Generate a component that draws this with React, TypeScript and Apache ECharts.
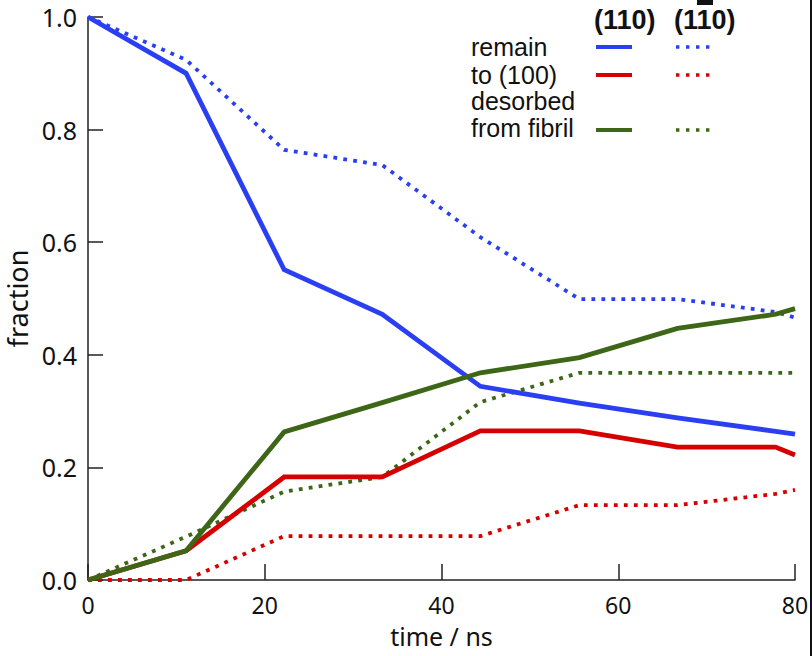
import React, { useEffect, useRef } from "react";
import * as echarts from "echarts";

const times = [0, 11.1, 22.2, 33.3, 44.4, 55.6, 66.7, 77.8, 80];
const remain110 = [1.0, 0.9, 0.551, 0.472, 0.344, 0.314, 0.288, 0.264, 0.259];
const remain1b10 = [1.0, 0.924, 0.764, 0.737, 0.609, 0.499, 0.499, 0.476, 0.466];
const to100_110 = [0.0, 0.052, 0.183, 0.183, 0.265, 0.265, 0.236, 0.236, 0.222];
const to100_1b10 = [0.0, 0.0, 0.078, 0.078, 0.078, 0.133, 0.133, 0.153, 0.16];
const desorbed110 = [0.0, 0.052, 0.263, 0.315, 0.368, 0.395, 0.447, 0.472, 0.482];
const desorbed1b10 = [0.0, 0.077, 0.157, 0.183, 0.316, 0.368, 0.368, 0.368, 0.368];
const xTicks = [0, 20, 40, 60, 80];
const yTicks = [0, 0.2, 0.4, 0.6, 0.8, 1.0];
const legendRows = ["remain", "to (100)", "desorbed", "from fibril"];

const BLUE = "#2b3ff2";
const RED = "#d50000";
const GREEN = "#3d6616";
const LEG_FONT = "'Liberation Sans', Arial, sans-serif";
const AX_FONT = "'Noto Sans', 'Open Sans', sans-serif";

const pairs = (vals: number[]) => times.map((t, i) => [t, vals[i]]);

export default function App() {
  const ref = useRef<HTMLDivElement>(null);
  useEffect(() => {
    if (!ref.current) return;
    const chart = echarts.init(ref.current, undefined, { renderer: "svg" });
    const solid = (name: string, vals: number[], color: string) => ({
      name,
      type: "line",
      data: pairs(vals),
      symbol: "none",
      lineStyle: { color, width: 4.8, type: "solid", cap: "butt", join: "miter" },
      z: 3,
    });
    const dotted = (name: string, vals: number[], color: string) => ({
      name,
      type: "line",
      data: pairs(vals),
      symbol: "none",
      lineStyle: { color, width: 3.8, type: [3.8, 6.2], cap: "butt" },
      z: 2,
    });
    const lgY = [47, 75, 101, 128];
    const lgColors = [BLUE, RED, null, GREEN];
    const graphics: any[] = [];
    legendRows.forEach((r, i) => {
      graphics.push({
        type: "text",
        x: 471,
        y: lgY[i],
        style: {
          text: r,
          fontFamily: LEG_FONT,
          fontSize: 25,
          lineHeight: 24,
          fill: "#111",
          verticalAlign: "middle",
          align: "left",
        },
      });
    });
    [0, 1, 3].forEach((i) => {
      const c = lgColors[i] as string;
      const y = i === 3 ? 130 : lgY[i];
      graphics.push({
        type: "line",
        shape: { x1: 596, y1: y, x2: 632, y2: y },
        style: { stroke: c, lineWidth: 3.8 },
      });
      graphics.push({
        type: "line",
        shape: { x1: 676, y1: y, x2: 711, y2: y },
        style: { stroke: c, lineWidth: 3.4, lineDash: [3.4, 6.6] },
      });
    });
    ["(110)", "(110)"].forEach((h, i) => {
      graphics.push({
        type: "text",
        x: i === 0 ? 594 : 674,
        y: 20,
        style: {
          text: h,
          fontFamily: LEG_FONT,
          fontWeight: "bold",
          fontSize: 27,
          fill: "#111",
          verticalAlign: "middle",
          align: "left",
        },
      });
    });
    graphics.push({
      type: "rect",
      shape: { x: 697, y: 0, width: 16, height: 5 },
      style: { fill: "#111" },
    });
    graphics.push({
      type: "rect",
      shape: { x: 810, y: 0, width: 2, height: 656 },
      style: { fill: "#111" },
    });

    chart.setOption({
      animation: false,
      backgroundColor: "#ffffff",
      grid: {
        left: 88,
        right: 17,
        top: 17,
        bottom: 76,
        containLabel: false,
        outerBoundsMode: "none",
      },
      xAxis: {
        type: "value",
        min: xTicks[0],
        max: xTicks[xTicks.length - 1],
        interval: 20,
        offset: 4,
        name: "time / ns",
        nameLocation: "middle",
        nameGap: 39,
        nameTextStyle: { fontFamily: AX_FONT, fontSize: 25, color: "#111" },
        axisLine: { lineStyle: { color: "#222", width: 1.5 } },
        axisTick: { inside: true, length: 16, lineStyle: { color: "#222", width: 1.5 } },
        axisLabel: {
          fontFamily: AX_FONT,
          fontSize: 23,
          color: "#111",
          margin: 9,
        },
        splitLine: { show: false },
      },
      yAxis: {
        type: "value",
        min: yTicks[0],
        max: yTicks[yTicks.length - 1],
        interval: 0.2,
        offset: 4,
        name: "fraction",
        nameLocation: "middle",
        nameGap: 51,
        nameTextStyle: { fontFamily: AX_FONT, fontSize: 27, color: "#111" },
        axisLine: { lineStyle: { color: "#222", width: 1.5 } },
        axisTick: { inside: true, length: 15, lineStyle: { color: "#222", width: 1.5 } },
        axisLabel: {
          fontFamily: AX_FONT,
          fontSize: 25,
          color: "#111",
          margin: 7,
          formatter: (v: number) => v.toFixed(1),
        },
        splitLine: { show: false },
      },
      series: [
        dotted("remain (1-10)", remain1b10, BLUE),
        dotted("to (100) (1-10)", to100_1b10, RED),
        dotted("desorbed (1-10)", desorbed1b10, GREEN),
        solid("remain (110)", remain110, BLUE),
        solid("to (100) (110)", to100_110, RED),
        solid("desorbed (110)", desorbed110, GREEN),
      ],
      graphic: graphics,
    });
    return () => chart.dispose();
  }, []);
  return (
    <div
      ref={ref}
      style={{ position: "absolute", left: 0, top: 0, width: 812, height: 656 }}
    />
  );
}
